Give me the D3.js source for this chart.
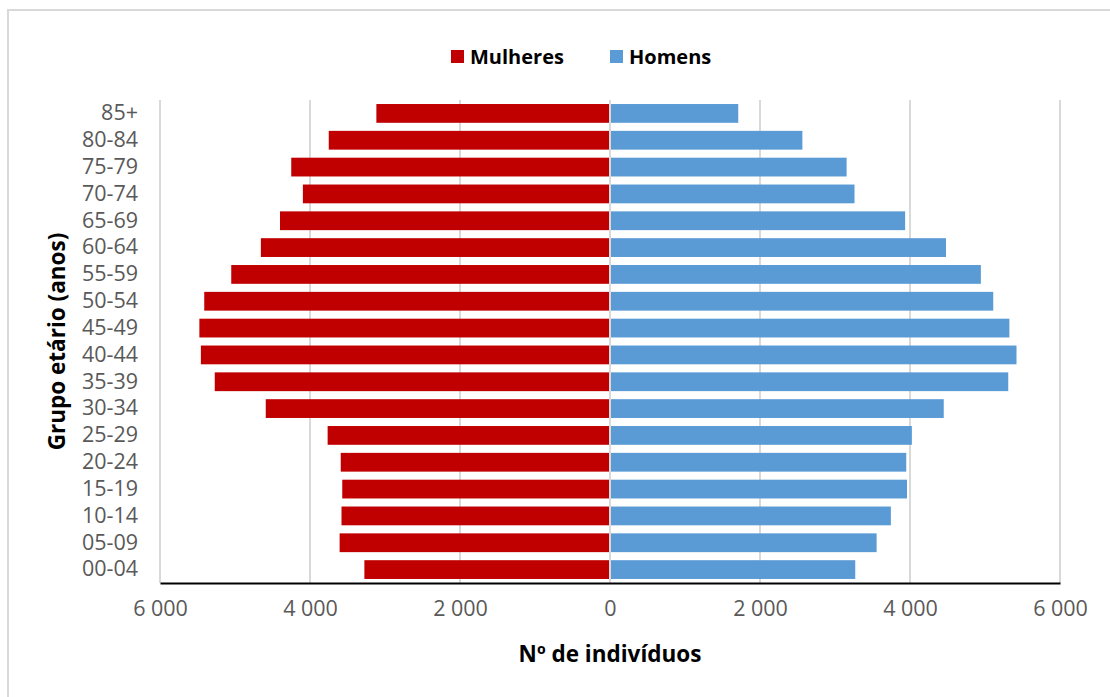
<!DOCTYPE html>
<html>
<head>
<meta charset="utf-8">
<style>
  body { margin: 0; background: #fff; }
  svg { display: block; font-family: 'Open Sans', sans-serif; }
  .tick text { fill: #595959; font-size: 21.5px; font-family: 'Open Sans', sans-serif; }
  .title { font-weight: bold; fill: #000; font-size: 22.5px; }
</style>
</head>
<body>
<svg id="chart" width="1110" height="697"></svg>

<script src="https://d3js.org/d3.v7.min.js"></script>
<script>

// age groups, top to bottom
var ageGroups = ["85+", "80-84", "75-79", "70-74", "65-69", "60-64", "55-59", "50-54", "45-49",
                 "40-44", "35-39", "30-34", "25-29", "20-24", "15-19", "10-14", "05-09", "00-04"];

var mulheres = [3115, 3750, 4250, 4095, 4400, 4655, 5050, 5410, 5475,
                5455, 5270, 4590, 3765, 3590, 3570, 3580, 3605, 3275];

var homens = [1710, 2565, 3155, 3260, 3935, 4480, 4945, 5110, 5325,
              5420, 5310, 4450, 4025, 3950, 3960, 3745, 3555, 3270];

var xTicks = [-6000, -4000, -2000, 0, 2000, 4000, 6000];

var seriesNames = ["Mulheres", "Homens"];
var colors = ["#c00000", "#5b9bd5"];

var margin = {top: 100, right: 50, bottom: 114, left: 160},
    width = 1110 - margin.left - margin.right,
    height = 697 - margin.top - margin.bottom;

var svg = d3.select("#chart");

// chart area border (light gray, runs off right/bottom)
svg.append("rect")
    .attr("x", 8).attr("y", 10)
    .attr("width", 1200).attr("height", 800)
    .attr("fill", "none")
    .attr("stroke", "#d9d9d9")
    .attr("stroke-width", 2);

var x = d3.scaleLinear().domain([-6000, 6000]).range([0, width]);
var y = d3.scaleBand().domain(ageGroups).range([0, height]).paddingInner(0.3).paddingOuter(0.15);

var fmt = function(d) { return d3.format(",")(Math.abs(d)).replace(/,/g, " "); };

var g = svg.append("g")
    .attr("transform", "translate(" + margin.left + "," + margin.top + ")");

// vertical gridlines
g.selectAll(".grid")
    .data(xTicks)
    .enter().append("line")
    .attr("class", "grid")
    .attr("x1", function(d) { return x(d); })
    .attr("x2", function(d) { return x(d); })
    .attr("y1", 0)
    .attr("y2", height)
    .attr("stroke", "#d9d9d9")
    .attr("stroke-width", 2);

// women bars (left)
g.selectAll(".bar-m")
    .data(mulheres)
    .enter().append("rect")
    .attr("class", "bar-m")
    .attr("x", function(d) { return x(-d); })
    .attr("width", function(d) { return x(0) - 1 - x(-d); })
    .attr("y", function(d, i) { return y(ageGroups[i]); })
    .attr("height", y.bandwidth())
    .attr("fill", colors[0]);

// men bars (right)
g.selectAll(".bar-h")
    .data(homens)
    .enter().append("rect")
    .attr("class", "bar-h")
    .attr("x", x(0) + 1)
    .attr("width", function(d) { return x(d) - x(0) - 1; })
    .attr("y", function(d, i) { return y(ageGroups[i]); })
    .attr("height", y.bandwidth())
    .attr("fill", colors[1]);

// y axis (category labels)
var yAxis = g.append("g")
    .call(d3.axisLeft(y).tickSize(0).tickPadding(22));
yAxis.select(".domain").remove();

// x axis
var xAxis = g.append("g")
    .attr("transform", "translate(0," + height + ")")
    .call(d3.axisBottom(x).tickValues(xTicks).tickSize(0).tickPadding(18).tickFormat(fmt));
xAxis.select(".domain").attr("stroke", "#000").attr("stroke-width", 2);

// axis titles
svg.append("text")
    .attr("class", "title")
    .attr("x", margin.left + x(0))
    .attr("y", 662)
    .attr("text-anchor", "middle")
    .text("Nº de indivíduos");

svg.append("text")
    .attr("class", "title")
    .attr("transform", "translate(65," + (margin.top + height / 2) + ") rotate(-90)")
    .attr("text-anchor", "middle")
    .text("Grupo etário (anos)");

// legend
var legendX = [451, 610];
var legend = svg.selectAll(".legend")
    .data(seriesNames)
    .enter().append("g")
    .attr("class", "legend")
    .attr("transform", function(d, i) { return "translate(" + legendX[i] + ",50)"; });

legend.append("rect")
    .attr("width", 13)
    .attr("height", 13)
    .attr("fill", function(d, i) { return colors[i]; });

legend.append("text")
    .attr("class", "title")
    .attr("x", 19)
    .attr("y", 14)
    .style("font-size", "20px")
    .text(function(d) { return d; });

</script>
</body>
</html>
